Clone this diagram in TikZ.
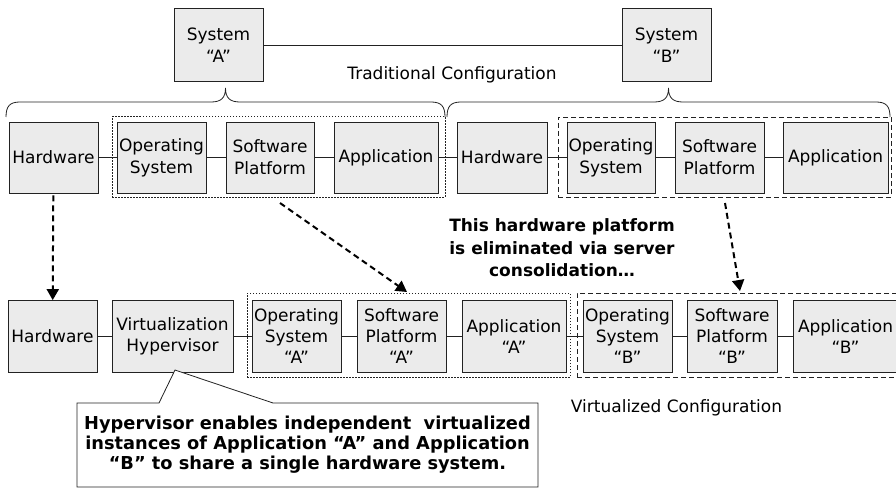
\documentclass[tikz,border=0pt]{standalone}
\usepackage{fontspec}
\setmainfont{DejaVu Sans}
\usetikzlibrary{arrows.meta}
\definecolor{boxgray}{HTML}{EBEBEB}
\definecolor{linec}{HTML}{222222}
\begin{document}
\begin{tikzpicture}[x=1pt,y=-1pt,
  box/.style={draw=linec, fill=boxgray, line width=0.8pt, align=center, inner sep=0pt,
    minimum height=71pt, font=\fontsize{17}{22}\selectfont},
  lbox/.style={box, minimum height=72pt, font=\fontsize{17}{21}\selectfont},
  grpdot/.style={draw=linec, line width=1pt, dash pattern=on 1.5pt off 1.5pt, inner sep=0pt},
  grpdash/.style={draw=linec, line width=0.9pt, dash pattern=on 5pt off 3pt, inner sep=0pt},
  conn/.style={draw=linec, line width=0.8pt},
  arr/.style={draw=black, line width=2pt, dash pattern=on 6pt off 4pt,
    -{Triangle[width=12pt,length=11pt]}},
  brace/.style={draw=linec, line width=0.8pt},
  plain/.style={font=\fontsize{17}{22}\selectfont, align=center, inner sep=0pt},
  boldtxt/.style={font=\bfseries\fontsize{17}{22.5}\selectfont, align=center, inner sep=0pt},
]
\useasboundingbox (0,0) rectangle (896,489);

% systems
\node[box, minimum width=89pt, minimum height=73pt] (sysa) at (218.5,45) {System\\“A”};
\node[box, minimum width=89pt, minimum height=73pt] (sysb) at (666.5,45) {System\\“B”};
\draw[conn] (sysa) -- (sysb);
\node[plain] (trad) at (452,75) {Traditional Configuration};

% braces
\draw[brace] (6,117) .. controls (6,106) and (10,102) .. (20,102) -- (211,102)
  .. controls (221,102) and (225.5,98) .. (225.5,88)
  .. controls (225.5,98) and (230,102) .. (240,102) -- (431,102)
  .. controls (441,102) and (445,106) .. (445,117);
\draw[brace] (447,117) .. controls (447,106) and (451,102) .. (461,102) -- (654,102)
  .. controls (664,102) and (668.5,98) .. (668.5,88)
  .. controls (668.5,98) and (673,102) .. (683,102) -- (876,102)
  .. controls (886,102) and (890,106) .. (890,117);

% top groups
\node[grpdot, minimum width=333pt, minimum height=80pt] (ga) at (278.5,157) {};
\node[grpdash, minimum width=333pt, minimum height=80pt] (gb) at (724.5,157) {};

% top row
\node[box, minimum width=89pt] (hwa) at (53.5,157.5) {Hardware};
\node[box, minimum width=89pt] (osa) at (161.5,157.5) {Operating\\System};
\node[box, minimum width=88pt] (spa) at (270,157.5) {Software\\Platform};
\node[box, minimum width=104pt] (appa) at (386,157.5) {Application};
\node[box, minimum width=90pt] (hwb) at (502,157.5) {Hardware};
\node[box, minimum width=88pt] (osb) at (611,157.5) {Operating\\System};
\node[box, minimum width=89pt] (spb) at (719.5,157.5) {Software\\Platform};
\node[box, minimum width=105pt] (appb) at (835.5,157.5) {Application};
\draw[conn] (hwa) -- (osa);
\draw[conn] (osa) -- (spa);
\draw[conn] (spa) -- (appa);
\draw[conn] (appa) -- (hwb);
\draw[conn] (hwb) -- (osb);
\draw[conn] (osb) -- (spb);
\draw[conn] (spb) -- (appb);

% middle text
\node[boldtxt] (elim) at (562,248) {This hardware platform\\is eliminated via server\\consolidation…};

% bottom groups
\node[grpdot, minimum width=323pt, minimum height=84pt] (gla) at (408.5,335) {};
\node[grpdash, minimum width=330pt, minimum height=84pt] (glb) at (742,335) {};

% bottom row
\node[lbox, minimum width=89pt] (hwl) at (52.5,336.5) {Hardware};
\node[lbox, minimum width=121pt] (vh) at (172.5,336.5) {Virtualization\\Hypervisor};
\node[lbox, minimum width=89pt] (osal) at (296.5,336.5) {Operating\\System\\“A”};
\node[lbox, minimum width=89pt] (spal) at (401.5,336.5) {Software\\Platform\\“A”};
\node[lbox, minimum width=104pt] (appal) at (514,336.5) {Application\\“A”};
\node[lbox, minimum width=89pt] (osbl) at (627.5,336.5) {Operating\\System\\“B”};
\node[lbox, minimum width=90pt] (spbl) at (732,336.5) {Software\\Platform\\“B”};
\node[lbox, minimum width=105pt] (appbl) at (845.5,336.5) {Application\\“B”};
\draw[conn] (hwl) -- (vh);
\draw[conn] (vh) -- (osal);
\draw[conn] (osal) -- (spal);
\draw[conn] (spal) -- (appal);
\draw[conn] (appal) -- (osbl);
\draw[conn] (osbl) -- (spbl);
\draw[conn] (spbl) -- (appbl);

\node[plain] (virt) at (676.5,408) {Virtualized Configuration};

% arrows
\coordinate (a1s) at (280,203);
\coordinate (a1e) at (407,292);
\coordinate (b1s) at (725,203);
\coordinate (b1e) at (740,291);
\draw[arr, shorten <=2pt] (hwa) -- (hwl);
\draw[arr] (a1s) -- (a1e);
\draw[arr] (b1s) -- (b1e);

% callout
\coordinate (ctip) at (175,370);
\draw[draw=linec, fill=white, line width=0.8pt] (77,403) -- (159,403) -- (ctip) -- (273,403)
  -- (538,403) -- (538,487) -- (77,487) -- cycle;
\node[font=\bfseries\fontsize{17.8}{20}\selectfont, align=center, inner sep=0pt] (call) at (307.5,445)
  {Hypervisor enables independent\ \ virtualized\\instances of Application “A” and Application\\“B” to share a single hardware system.};
\end{tikzpicture}
\end{document}
